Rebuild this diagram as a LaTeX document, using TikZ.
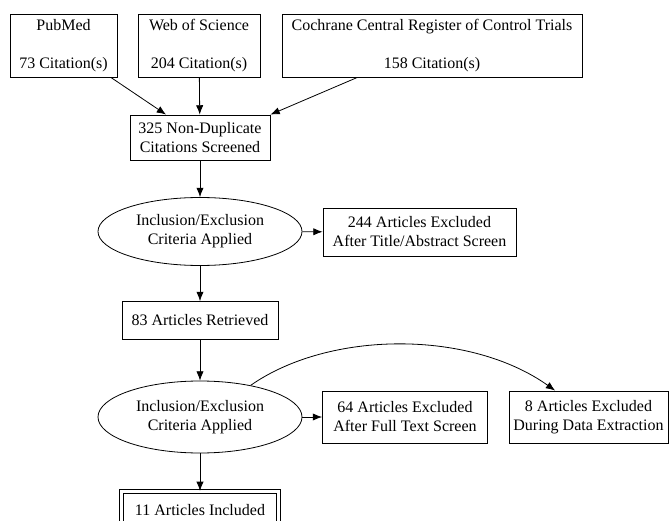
\documentclass[tikz,border=0pt]{standalone}
\usepackage{fontspec}
\setmainfont{Liberation Serif}
\usetikzlibrary{arrows.meta,shapes.geometric}
\tikzset{font={\fontsize{12pt}{14.25pt}\selectfont}}

\begin{document}
\begin{tikzpicture}[x=0.75pt,y=-0.75pt,line width=0.6pt,
box/.style={draw,rectangle,align=center,inner sep=0pt},
oval/.style={draw,ellipse,align=center,inner sep=0pt,minimum width=153pt,minimum height=51pt},
>={Latex[length=7pt,width=5.5pt]}
]
\clip (0,0) rectangle (669,521);
\fill[white] (0,0) rectangle (669,521);

% sources
\node[box,minimum width=80.25pt,minimum height=47.25pt] (pubmed) at (63.5,45.5) {PubMed\\[14.25pt]73 Citation(s)};
\node[box,minimum width=91.5pt,minimum height=47.25pt] (wos) at (199,45.5) {Web of Science\\[14.25pt]204 Citation(s)};
\node[box,minimum width=225pt,minimum height=47.25pt] (cochrane) at (432,45.5) {Cochrane Central Register of Control Trials\\[14.25pt]158 Citation(s)};

\node[box,minimum width=105pt,minimum height=33.75pt] (screened) at (200,137.5) {325 Non-Duplicate\\Citations Screened};

% first screen
\node[oval] (crit1) at (200,231.5) {Inclusion/Exclusion\\Criteria Applied};
\node[box,minimum width=144.75pt,minimum height=36pt] (excl1) at (419.5,232) {244 Articles Excluded\\After Title/Abstract Screen};

\node[box,minimum width=117pt,minimum height=28.5pt] (retrieved) at (200,320.5) {83 Articles Retrieved};

% second screen
\node[oval,minimum height=54pt] (crit2) at (200,417) {Inclusion/Exclusion\\Criteria Applied};
\node[box,minimum width=123.75pt,minimum height=39pt] (excl2) at (405,417) {64 Articles Excluded\\After Full Text Screen};
\node[box,minimum width=119.25pt,minimum height=39pt] (excl3) at (588.5,417) {8 Articles Excluded\\During Data Extraction};

\node[box,double,double distance=2.5pt,minimum width=118pt,minimum height=28pt] (included) at (200,510) {11 Articles Included};

\draw[->] (pubmed) -- (screened);
\draw[->] (wos) -- (screened);
\draw[->] (cochrane) -- (screened.north east);
\draw[->] (screened) -- (crit1);
\draw[->] (crit1) -- (excl1);
\draw[->] (crit1) -- (retrieved);
\draw[->] (retrieved) -- (crit2);
\draw[->] (crit2) -- (excl2);
\draw[->] (crit2.32) .. controls (330,330) and (470,330) .. ([xshift=-25pt]excl3.north);
\draw[->] (crit2) -- (included);
\end{tikzpicture}
\end{document}
